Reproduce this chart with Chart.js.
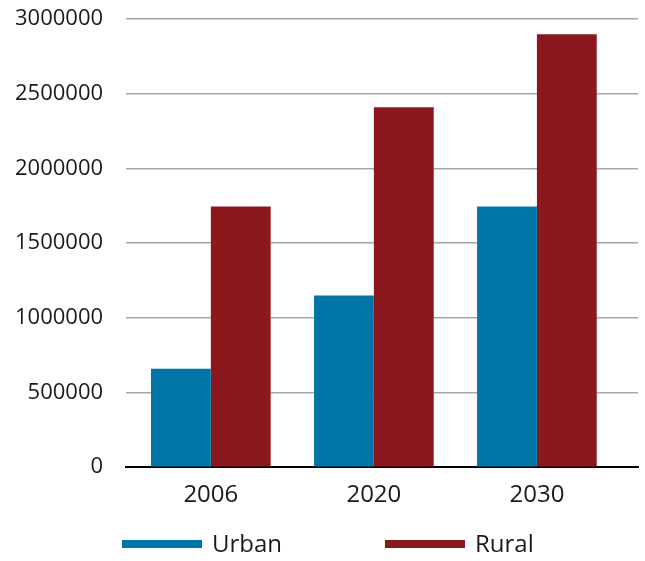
<!DOCTYPE html>
<html>
<head>
<meta charset="utf-8">
<script src="https://cdn.jsdelivr.net/npm/chart.js@4"></script>
<style>
  html, body { margin: 0; padding: 0; background: #fff; }
  #wrap { width: 645px; height: 561px; }
</style>
</head>
<body>
<div id="wrap"><canvas id="chart" width="645" height="561"></canvas></div>
<script>
const years = ['2006', '2020', '2030'];
const urban = [660000, 1150000, 1745000];
const rural = [1745000, 2410000, 2900000];
const seriesNames = ['Urban', 'Rural'];
const seriesColors = ['#0076a8', '#8b181d'];

const FONT = "'Open Sans', sans-serif";

// legend drawn under the axis, wide swatches like the original
const bottomLegend = {
    id: 'bottomLegend',
    afterDraw(chart) {
        const ctx = chart.ctx;
        const y = 544;
        const starts = [122, 385];
        ctx.save();
        ctx.font = '24px ' + FONT;
        ctx.textBaseline = 'middle';
        chart.data.datasets.forEach((ds, i) => {
            const x = starts[i];
            ctx.fillStyle = ds.backgroundColor;
            ctx.fillRect(x, y - 4, 80, 8);
            ctx.fillStyle = '#1a1a1a';
            ctx.fillText(ds.label, x + 90, y + 1);
        });
        ctx.restore();
    }
};

new Chart(document.getElementById('chart').getContext('2d'), {
    type: 'bar',
    data: {
        labels: years,
        datasets: [
            { label: seriesNames[0], data: urban, backgroundColor: seriesColors[0] },
            { label: seriesNames[1], data: rural, backgroundColor: seriesColors[1] }
        ]
    },
    options: {
        responsive: false,
        animation: false,
        layout: { padding: { left: 9, right: 7, top: 0, bottom: 37 } },
        datasets: {
            bar: { categoryPercentage: 0.734, barPercentage: 1.0 }
        },
        plugins: {
            legend: { display: false },
            tooltip: { enabled: false }
        },
        scales: {
            x: {
                grid: { display: false, drawTicks: false },
                border: { display: true, color: '#000', width: 2 },
                ticks: { color: '#1a1a1a', font: { family: FONT, size: 24 }, padding: 14 },
                // the original leaves extra room after the last group
                afterBuildTicks: s => {
                    s._valueRange = 3.14;
                    s._startValue = s._startValue - 0.02;
                }
            },
            y: {
                min: 0,
                max: 3000000,
                grid: {
                    color: '#a8a8a8',
                    lineWidth: 1.5,
                    drawTicks: true,
                    tickLength: 17,
                    tickColor: 'rgba(0,0,0,0)'
                },
                border: { display: false },
                ticks: {
                    stepSize: 500000,
                    color: '#1a1a1a',
                    font: { family: FONT, size: 22 },
                    padding: 6,
                    callback: v => String(v)
                }
            }
        }
    },
    plugins: [bottomLegend]
});
</script>
</body>
</html>
